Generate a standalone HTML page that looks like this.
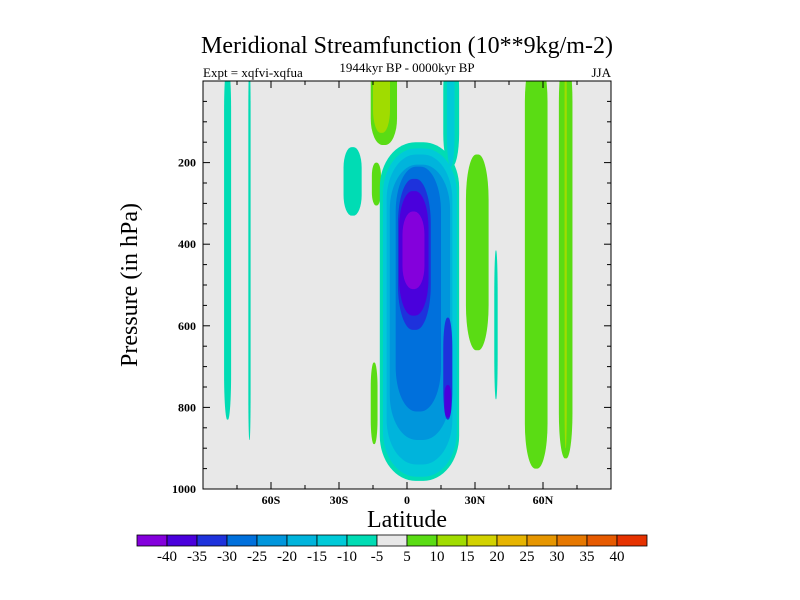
<!DOCTYPE html>
<html><head><meta charset="utf-8"><style>
html,body{margin:0;background:#fff;width:800px;height:600px;overflow:hidden}
svg{display:block;font-family:"Liberation Serif",serif}
</style></head><body>
<svg id="c" width="800" height="600">
<defs><clipPath id="pc"><rect x="203" y="81" width="408" height="408"/></clipPath></defs>
<text x="407" y="53" text-anchor="middle" font-size="24">Meridional Streamfunction (10**9kg/m-2)</text>
<text x="203" y="77" font-size="13">Expt = xqfvi-xqfua</text>
<text x="407" y="72" text-anchor="middle" font-size="13">1944kyr BP - 0000kyr BP</text>
<text x="611" y="77" text-anchor="end" font-size="13">JJA</text>
<rect x="203" y="81" width="408" height="408" fill="#e8e8e8"/>
<g id="marks" clip-path="url(#pc)"></g>
<g id="axes"></g>
<rect x="203" y="81" width="408" height="408" fill="none" stroke="#000" stroke-width="1"/>
<text x="407" y="527" text-anchor="middle" font-size="24">Latitude</text>
<text transform="translate(137,285) rotate(-90)" text-anchor="middle" font-size="24">Pressure (in hPa)</text>
<g id="cbar"></g>
</svg>
<script>
const levels=[-45,-40,-35,-30,-25,-20,-15,-10,-5,5,10,15,20,25,30,35,40,45];
const colors=["#8400dc","#4a00dc","#1e32dc","#0070dc","#0096dc","#00b4dc","#00cad8","#00dcb4","#e8e8e8","#5adc14","#a0dc00","#d2d200","#e6b400","#e69600","#e67800","#e65a00","#e63200"];
const cbLabels=["-40","-35","-30","-25","-20","-15","-10","-5","5","10","15","20","25","30","35","40"];
const xTicks=[-60,-30,0,30,60];
const xTickLabels=["60S","30S","0","30N","60N"];
const yTicks=[200,400,600,800,1000];
// contour regions: latitude range, pressure range (hPa), colour index
const regLat0=[-80.7,-70,-16,-15,-28,-15.5,-16,26,38.5,52,67,69.5, -12,16,-10.6,17.6,-9,-7.6,-5,-4,16,-3.5,16.5,-2];
const regLat1=[-77.6,-69,-4.4,-7.5,-20,-11.5,-13,36,40,62,73,70.5, 23,23,22,21,20,19,15,10.5,20,9.5,19.5,7.7];
const regP0=[-40,-40,-60,-60,162,200,690,180,415,-60,-60,-60, 150,-60,165,-60,180,205,210,240,580,270,745,320];
const regP1=[830,880,157,127,330,305,890,660,780,950,925,900, 980,210,970,210,940,880,810,610,830,575,825,510];
const regCol=[7,7,9,10,7,9,9,9,7,9,9,10, 7,7,6,6,5,4,3,2,2,1,1,0];
const X=lat=>203+(lat+90)*408/180;
const Y=p=>81+p*0.408;
const NS="http://www.w3.org/2000/svg";
const marks=document.getElementById('marks');
regLat0.forEach((l0,i)=>{
  const x0=X(l0),x1=X(regLat1[i]),y0=Y(regP0[i]),y1=Y(regP1[i]);
  const w=x1-x0,h=y1-y0;
  const r=document.createElementNS(NS,'rect');
  r.setAttribute('x',x0);r.setAttribute('y',y0);r.setAttribute('width',w);r.setAttribute('height',h);
  r.setAttribute('rx',w*0.45);r.setAttribute('ry',Math.min(h*0.3,45));
  r.setAttribute('fill',colors[regCol[i]]);
  
  
  marks.appendChild(r);
});
const axes=document.getElementById('axes');
function line(x1,y1,x2,y2){const l=document.createElementNS(NS,'line');l.setAttribute('x1',x1);l.setAttribute('y1',y1);l.setAttribute('x2',x2);l.setAttribute('y2',y2);l.setAttribute('stroke','#000');axes.appendChild(l);}
function txt(x,y,s,anchor,name){const t=document.createElementNS(NS,'text');t.setAttribute('x',x);t.setAttribute('y',y);t.setAttribute('text-anchor',anchor);t.setAttribute('font-size','12');t.setAttribute('font-weight','bold');t.textContent=s;axes.appendChild(t);}
for(let lat=-75;lat<=75;lat+=15){const x=X(lat),m=lat%30===0?7:4;line(x,489,x,489-m);line(x,81,x,81+m);}
for(let p=50;p<1000;p+=50){const y=Y(p),m=p%200===0?7:4;line(203,y,203+m,y);line(611,y,611-m,y);}
xTicks.forEach((v,i)=>txt(X(v),504,xTickLabels[i],'middle','x-tick-label'));
yTicks.forEach(v=>txt(196,Y(v)+4,String(v),'end','y-tick-label'));
const cb=document.getElementById('cbar');
colors.forEach((c,i)=>{const r=document.createElementNS(NS,'rect');r.setAttribute('x',137+i*30);r.setAttribute('y',535);r.setAttribute('width',30);r.setAttribute('height',11);r.setAttribute('fill',c);r.setAttribute('stroke','#000');r.setAttribute('stroke-width','0.8');


cb.appendChild(r);});
cbLabels.forEach((s,i)=>{const t=document.createElementNS(NS,'text');t.setAttribute('x',167+i*30);t.setAttribute('y',561);t.setAttribute('text-anchor','middle');t.setAttribute('font-size','15');t.textContent=s;


cb.appendChild(t);});
</script>
</body></html>
